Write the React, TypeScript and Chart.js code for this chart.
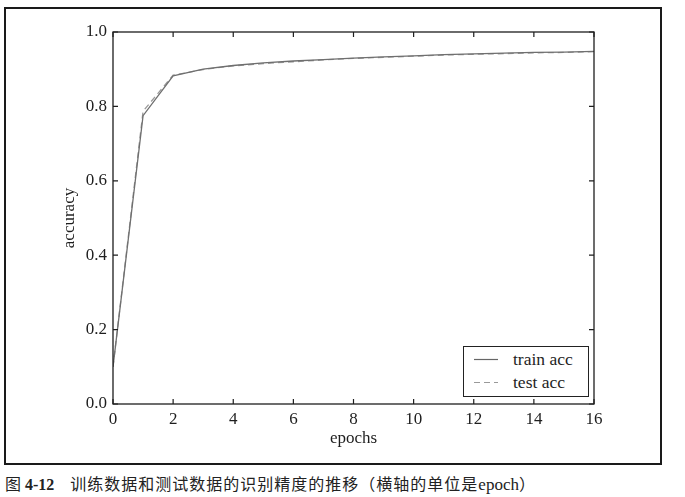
import React, { useEffect, useRef } from "react";
import { Chart, registerables } from "chart.js";

Chart.register(...registerables);

const epochs = [0, 1, 2, 3, 4, 5, 6, 7, 8, 9, 10, 11, 12, 13, 14, 15, 16];
const trainAcc = [0.1, 0.775, 0.882, 0.9, 0.91, 0.917, 0.922, 0.926, 0.93, 0.933, 0.936, 0.939, 0.941, 0.943, 0.945, 0.946, 0.948];
const testAcc = [0.1, 0.787, 0.884, 0.899, 0.909, 0.915, 0.92, 0.925, 0.929, 0.932, 0.935, 0.938, 0.94, 0.942, 0.944, 0.945, 0.947];
const xTicks = [0, 2, 4, 6, 8, 10, 12, 14, 16];
const yTicks = [0, 0.2, 0.4, 0.6, 0.8, 1.0];
const seriesNames = ["train acc", "test acc"];

const SERIF = "'Liberation Serif', 'DejaVu Serif', serif";
const INK = "#1e1e1e";

const frameTicks = {
  id: "frameTicks",
  afterDraw(chart: any) {
    const { ctx, chartArea } = chart;
    const { left, right, top, bottom } = chartArea;
    const xs = chart.scales.x;
    const ys = chart.scales.y;
    const L = 5;
    ctx.save();
    ctx.strokeStyle = INK;
    ctx.lineWidth = 1.3;
    ctx.strokeRect(left, top, right - left, bottom - top);
    ctx.lineWidth = 1.2;
    ctx.beginPath();
    xs.ticks.forEach((t: any) => {
      const px = xs.getPixelForValue(t.value);
      ctx.moveTo(px, bottom);
      ctx.lineTo(px, bottom - L);
      ctx.moveTo(px, top);
      ctx.lineTo(px, top + L);
    });
    ys.ticks.forEach((t: any) => {
      const py = ys.getPixelForValue(t.value);
      ctx.moveTo(left, py);
      ctx.lineTo(left + L, py);
      ctx.moveTo(right, py);
      ctx.lineTo(right - L, py);
    });
    ctx.stroke();
    ctx.restore();
  },
};

export default function App() {
  const ref = useRef<HTMLCanvasElement>(null);
  useEffect(() => {
    if (!ref.current) return;
    const chart = new Chart(ref.current, {
      type: "line",
      data: {
        datasets: [
          {
            label: seriesNames[0],
            data: epochs.map((e, i) => ({ x: e, y: trainAcc[i] })),
            borderColor: "#6f6f6f",
            borderWidth: 1.3,
            pointRadius: 0,
            tension: 0,
          },
          {
            label: seriesNames[1],
            data: epochs.map((e, i) => ({ x: e, y: testAcc[i] })),
            borderColor: "#9a9a9a",
            borderWidth: 1.3,
            borderDash: [6, 4],
            pointRadius: 0,
            tension: 0,
          },
        ],
      },
      plugins: [frameTicks],
      options: {
        animation: false,
        responsive: false,
        maintainAspectRatio: false,
        layout: { padding: { top: 32, right: 91, left: 55, bottom: 17 } },
        plugins: { legend: { display: false }, tooltip: { enabled: false } },
        scales: {
          x: {
            type: "linear",
            min: 0,
            max: 16,
            afterFit: (s: any) => {
              s.height = 49;
            },
            afterBuildTicks: (s: any) => {
              s.ticks = xTicks.map((v) => ({ value: v }));
            },
            grid: { display: false, drawTicks: false },
            border: { display: false },
            ticks: { padding: 5, color: INK, font: { family: SERIF, size: 17 }, maxRotation: 0 },
            title: { display: true, text: "epochs", color: INK, font: { family: SERIF, size: 17 }, padding: { top: 2, bottom: 4 } },
          },
          y: {
            type: "linear",
            min: 0,
            max: 1,
            afterFit: (s: any) => {
              s.width = 58;
            },
            afterBuildTicks: (s: any) => {
              s.ticks = yTicks.map((v) => ({ value: v }));
            },
            grid: { display: false, drawTicks: false },
            border: { display: false },
            ticks: {
              padding: 6,
              color: INK,
              font: { family: SERIF, size: 17 },
              callback: (v: any) => Number(v).toFixed(1),
            },
            title: { display: true, text: "accuracy", color: INK, font: { family: SERIF, size: 17 }, padding: { top: 4, bottom: 4 } },
          },
        },
      },
    });
    return () => chart.destroy();
  }, []);

  return (
    <div style={{ position: "absolute", left: 0, top: 0, width: 685, height: 497, background: "#fff", overflow: "hidden" }}>
      <div style={{ position: "absolute", left: 4, top: 7, width: 654, height: 454, border: "2px solid #1a1a1a" }} />
      <canvas ref={ref} width={685} height={470} style={{ position: "absolute", left: 0, top: 0, width: 685, height: 470 }} />
      <div
        style={{
          position: "absolute",
          left: 463,
          top: 346,
          width: 124,
          height: 49,
          border: "1px solid #222",
          background: "#fff",
          fontFamily: SERIF,
          fontSize: 17.5,
          color: INK,
        }}
      >
        <svg style={{ position: "absolute", left: 10, top: 8 }} width={26} height={32}>
          <line x1={0} y1={4.5} x2={24} y2={4.5} stroke="#666" strokeWidth={1.2} />
          <line x1={0} y1={27.5} x2={24} y2={27.5} stroke="#999" strokeWidth={1.2} strokeDasharray="6,4" />
        </svg>
        <div style={{ position: "absolute", left: 49, top: 2, lineHeight: "20px", whiteSpace: "nowrap" }}>{seriesNames[0]}</div>
        <div style={{ position: "absolute", left: 49, top: 25, lineHeight: "20px", whiteSpace: "nowrap" }}>{seriesNames[1]}</div>
      </div>
      <div
        style={{
          position: "absolute",
          left: 5,
          top: 472,
          fontSize: 16,
          lineHeight: "22px",
          color: "#222",
          whiteSpace: "nowrap",
          fontFamily: "'Noto Sans CJK SC', sans-serif",
          letterSpacing: "1px",
        }}
      >
        <span>图</span>
        <span style={{ fontFamily: SERIF, fontWeight: "bold", letterSpacing: 0, marginLeft: 3 }}>4-12</span>
        <span style={{ marginLeft: 16 }}>训练数据和测试数据的识别精度的推移（横轴的单位是</span>
        <span style={{ fontFamily: SERIF, letterSpacing: 0, fontSize: 17 }}>epoch</span>
        <span>）</span>
      </div>
    </div>
  );
}
